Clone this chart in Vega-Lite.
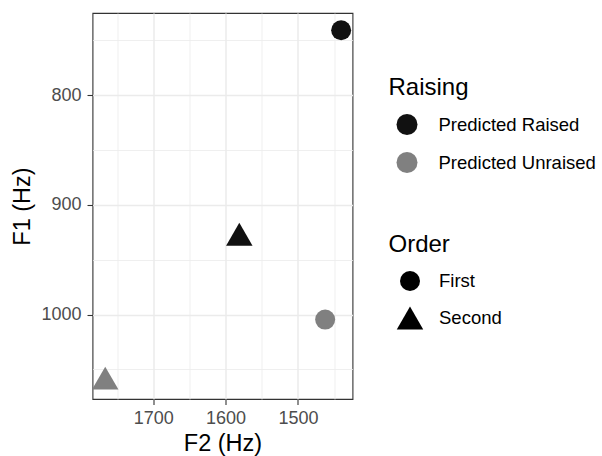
{
  "$schema": "https://vega.github.io/schema/vega-lite/v6.json",
  "width": 260,
  "height": 386,
  "autosize": {"type": "none"},
  "padding": {"left": 92.5, "top": 13, "right": 249.5, "bottom": 57},
  "background": "white",
  "config": {
    "font": "Liberation Sans",
    "view": {"stroke": "#333333", "strokeWidth": 1.1},
    "axis": {
      "domain": false,
      "grid": true,
      "gridColor": "#EBEBEB",
      "tickColor": "#333333",
      "tickSize": 5.5,
      "tickWidth": 1.1,
      "labelFont": "Liberation Sans",
      "labelFontSize": 18,
      "labelColor": "#4D4D4D",
      "titleFont": "Liberation Sans",
      "titleFontSize": 23.5,
      "titleFontWeight": "normal",
      "titleColor": "#000000"
    },
    "legend": {
      "titleFont": "Liberation Sans",
      "titleFontSize": 24,
      "titleFontWeight": "normal",
      "titleColor": "#000000",
      "labelFont": "Liberation Sans",
      "labelFontSize": 18.5,
      "labelColor": "#000000",
      "titlePadding": 14,
      "symbolStrokeWidth": 0,
      "symbolOffset": 8,
      "padding": 0
    }
  },
  "data": {
    "values": [
      {"F2": 1440.2, "F1": 740.7, "Raising": "Predicted Raised", "Order": "First"},
      {"F2": 1581, "F1": 926.8, "Raising": "Predicted Raised", "Order": "Second"},
      {"F2": 1462.3, "F1": 1004.6, "Raising": "Predicted Unraised", "Order": "First"},
      {"F2": 1766.4, "F1": 1058, "Raising": "Predicted Unraised", "Order": "Second"}
    ]
  },
  "mark": {"type": "point", "filled": true, "opacity": 1},
  "encoding": {
    "x": {
      "field": "F2",
      "type": "quantitative",
      "title": "F2 (Hz)",
      "scale": {"domain": [1424.5, 1784], "reverse": true, "nice": false, "zero": false},
      "axis": {
        "values": [1450, 1500, 1550, 1600, 1650, 1700, 1750],
        "format": "d",
        "labelExpr": "datum.value % 100 === 0 ? datum.label : ''",
        "tickOpacity": {"condition": {"test": "datum.value % 100 === 0", "value": 1}, "value": 0},
        "gridWidth": {"condition": {"test": "datum.value % 100 === 0", "value": 1.5}, "value": 0.8},
        "labelPadding": 5,
        "titlePadding": 4
      }
    },
    "y": {
      "field": "F1",
      "type": "quantitative",
      "title": "F1 (Hz)",
      "scale": {"domain": [725, 1077], "reverse": true, "nice": false, "zero": false},
      "axis": {
        "values": [750, 800, 850, 900, 950, 1000, 1050],
        "format": "d",
        "labelExpr": "datum.value % 100 === 0 ? datum.label : ''",
        "tickOpacity": {"condition": {"test": "datum.value % 100 === 0", "value": 1}, "value": 0},
        "gridWidth": {"condition": {"test": "datum.value % 100 === 0", "value": 1.5}, "value": 0.8},
        "labelPadding": 6,
        "titlePadding": 6
      }
    },
    "color": {
      "field": "Raising",
      "type": "nominal",
      "scale": {"domain": ["Predicted Raised", "Predicted Unraised"], "range": ["#111111", "#808080"]},
      "legend": {"title": "Raising", "orient": "none", "legendX": 296, "legendY": 63, "symbolType": "circle", "symbolSize": 440, "labelOffset": 21, "rowPadding": 17}
    },
    "shape": {
      "field": "Order",
      "type": "nominal",
      "scale": {"domain": ["First", "Second"], "range": ["circle", "triangle-up"]},
      "legend": {"title": "Order", "orient": "none", "legendX": 296, "legendY": 220, "symbolFillColor": "#000000", "labelOffset": 15.5, "rowPadding": 13.5}
    },
    "size": {
      "field": "Order",
      "type": "nominal",
      "scale": {"domain": ["First", "Second"], "range": [400, 700]}
    }
  }
}
